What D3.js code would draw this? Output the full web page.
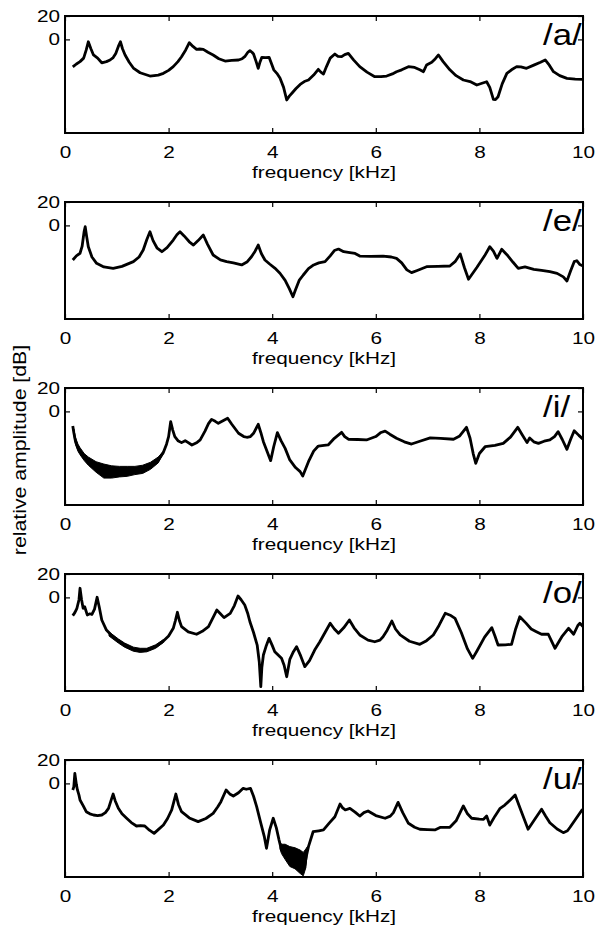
<!DOCTYPE html>
<html>
<head>
<meta charset="utf-8">
<script src="https://cdn.jsdelivr.net/npm/d3@7"></script>
<style>
  body { margin: 0; background: #fff; }
  text { font-family: "Liberation Sans", Arial, sans-serif; fill: #000; }
</style>
</head>
<body>
<div id="spectra"></div>
<script>
let spMargin = {top: 16, left: 65},
    spWidth = 518,
    spHeight = 117,
    spStep = 186

// vowel labels and spectra: [frequency kHz, level dB]
const vowelLabels = ["/a/", "/e/", "/i/", "/o/", "/u/"]
const xTicks = [0, 2, 4, 6, 8, 10]
const yTicks = [20, 0]

const specA = [
  [0.15,-23.5],[0.22,-21],[0.29,-19],[0.36,-16],[0.41,-9],[0.45,-2],[0.50,-8],[0.55,-13.3],[0.63,-16],[0.71,-20],
  [0.80,-19],[0.87,-17.6],[0.93,-15.5],[0.98,-12],[1.03,-6],[1.07,-2],[1.11,-8],[1.16,-13.3],[1.24,-19.5],[1.32,-24.5],
  [1.45,-28.5],[1.64,-31.3],[1.80,-30.5],[1.90,-29],[2.00,-26.5],[2.09,-23.3],[2.18,-19],[2.25,-14.8],[2.33,-9],[2.40,-2.8],
  [2.47,-6],[2.54,-8.5],[2.60,-8.2],[2.67,-8.5],[2.76,-11],[2.86,-13.3],[2.97,-16.5],[3.09,-18.5],[3.22,-18],[3.35,-17.6],
  [3.42,-16.5],[3.47,-14.8],[3.53,-11],[3.57,-9.6],[3.61,-11],[3.64,-12.5],[3.69,-19],[3.73,-24.7],[3.76,-20],[3.80,-15.3],
  [3.87,-15.5],[3.94,-15.3],[3.98,-20],[4.03,-26],[4.09,-29],[4.15,-33],[4.22,-41],[4.28,-51.8],[4.33,-48.5],[4.38,-46],
  [4.46,-42],[4.54,-38.5],[4.62,-36],[4.70,-34.7],[4.80,-30.5],[4.89,-25.6],[4.94,-28],[4.99,-29.6],[5.05,-23],[5.12,-16],
  [5.21,-12.5],[5.27,-14.5],[5.34,-14.8],[5.40,-13],[5.47,-11.9],[5.57,-17.5],[5.69,-23.3],[5.83,-28],[5.98,-31.9],[6.10,-31.8],
  [6.21,-31.3],[6.32,-29.5],[6.40,-27.6],[6.50,-26],[6.63,-23.3],[6.75,-24],[6.85,-26],[6.92,-27.6],[6.98,-21.9],[7.08,-19.5],
  [7.15,-16.5],[7.21,-13.3],[7.30,-19],[7.43,-26],[7.55,-31],[7.69,-34.7],[7.82,-36],[7.95,-39],[8.05,-37.5],[8.14,-36.2],
  [8.20,-41],[8.27,-51.2],[8.31,-51.5],[8.36,-49],[8.44,-38],[8.53,-29],[8.62,-26],[8.72,-23.3],[8.80,-23.5],[8.91,-24.7],
  [9.05,-22],[9.18,-19.5],[9.27,-17.6],[9.35,-22],[9.43,-27.6],[9.55,-31],[9.69,-33.3],[9.85,-34],[10.0,-34.1]
]

const specE = [
  [0.15,-29.6],[0.22,-26],[0.29,-23.8],[0.33,-18],[0.37,-5],[0.39,-1.1],[0.42,-10],[0.45,-18.2],[0.52,-27],[0.61,-32.4],
  [0.75,-35.5],[0.93,-36.7],[1.10,-35],[1.32,-31],[1.43,-27],[1.51,-21],[1.58,-12],[1.64,-5.4],[1.70,-13],[1.78,-19.5],
  [1.87,-22.5],[1.97,-19],[2.09,-12.5],[2.16,-8],[2.22,-5.4],[2.30,-9],[2.40,-14],[2.48,-16.8],[2.57,-13],[2.67,-8.2],
  [2.75,-16],[2.86,-25.3],[3.00,-29.5],[3.12,-31],[3.25,-32],[3.41,-33.8],[3.52,-31],[3.60,-26.8],[3.67,-22],[3.73,-16.8],
  [3.79,-24],[3.86,-29.6],[3.95,-33],[4.05,-36.5],[4.15,-40.9],[4.25,-47],[4.33,-54],[4.40,-61],[4.45,-55],[4.52,-47],
  [4.60,-42.4],[4.70,-37],[4.80,-33.8],[4.90,-32],[5.02,-31],[5.12,-26],[5.20,-21.5],[5.28,-20.2],[5.38,-22.5],[5.50,-23.3],
  [5.60,-24],[5.69,-26.2],[5.90,-26.5],[6.14,-26.2],[6.30,-27],[6.40,-28.2],[6.50,-32],[6.60,-38],[6.69,-40.4],[6.80,-38.5],
  [6.98,-35.3],[7.20,-35],[7.43,-34.7],[7.53,-31],[7.63,-24.4],[7.71,-36],[7.79,-46],[7.95,-36],[8.10,-26],[8.20,-18.2],
  [8.27,-22],[8.34,-28.2],[8.43,-20.4],[8.55,-26],[8.65,-31.5],[8.75,-36.7],[8.88,-35.5],[9.05,-37.5],[9.20,-38.5],[9.36,-39.6],
  [9.50,-41],[9.62,-44],[9.69,-47.5],[9.76,-39],[9.83,-31],[9.88,-30.2],[9.94,-33.5],[10.0,-34.7]
]

const specI = [
  [0.15,-12.5],[0.17,-18],[0.20,-25],[0.25,-31],[0.29,-34.4],[0.37,-39],[0.45,-42.5],[0.60,-47.5],[0.75,-51],[0.90,-52],
  [1.05,-51.5],[1.20,-51],[1.35,-50.5],[1.50,-49.5],[1.65,-46.5],[1.80,-41.5],[1.90,-35],[1.96,-28],[2.00,-21.6],[2.04,-8.8],
  [2.08,-16],[2.12,-21.6],[2.18,-25],[2.25,-26.7],[2.32,-25],[2.45,-28.7],[2.55,-26.5],[2.61,-24.4],[2.70,-17],[2.77,-10.5],
  [2.83,-6.8],[2.90,-8.5],[2.96,-10.2],[3.05,-8],[3.14,-5.9],[3.22,-11],[3.35,-18.7],[3.45,-21.5],[3.51,-22.1],[3.58,-21.5],
  [3.64,-18.7],[3.73,-11],[3.78,-18],[3.83,-25.9],[3.90,-34],[3.97,-42.1],[4.03,-30],[4.10,-18.2],[4.17,-25],[4.25,-31.6],
  [4.34,-41.5],[4.45,-48],[4.54,-51.5],[4.59,-55.2],[4.70,-43],[4.80,-34],[4.89,-29.6],[5.00,-29],[5.08,-28.7],[5.20,-23],
  [5.34,-17.9],[5.40,-21.5],[5.47,-23.8],[5.65,-24],[5.82,-24.4],[6.00,-21.5],[6.10,-18],[6.18,-16.8],[6.27,-19.5],[6.40,-23],
  [6.55,-26],[6.69,-27.9],[6.85,-25.5],[7.05,-22.7],[7.25,-23],[7.50,-23.8],[7.62,-21],[7.75,-13.6],[7.82,-23],[7.88,-36],
  [7.93,-44.4],[8.00,-36],[8.11,-30.2],[8.30,-29],[8.46,-27.3],[8.60,-22],[8.74,-13.6],[8.82,-19.5],[8.92,-26.7],[8.97,-22.7],
  [9.05,-26],[9.14,-27.3],[9.25,-25.5],[9.36,-24.4],[9.45,-21.5],[9.52,-17.3],[9.60,-24],[9.69,-32.4],[9.76,-24],[9.83,-16.5],
  [9.92,-20.5],[10.0,-23.8]
]

const specO = [
  [0.15,-15.6],[0.19,-13],[0.23,-9.3],[0.27,-2],[0.29,7.8],[0.32,-2],[0.35,-9.3],[0.38,-8],[0.43,-15],[0.48,-14],
  [0.52,-14.6],[0.57,-10],[0.62,0.1],[0.66,-8],[0.71,-19.3],[0.80,-27.9],[0.90,-32.5],[1.03,-37.3],[1.15,-40.5],[1.32,-44.2],
  [1.45,-45.2],[1.58,-45],[1.75,-42],[1.90,-37.3],[2.00,-33],[2.09,-26.4],[2.13,-20],[2.17,-12.7],[2.21,-20],[2.25,-25],
  [2.38,-29.5],[2.54,-31.5],[2.65,-29],[2.77,-25],[2.86,-17],[2.93,-10.8],[3.00,-14],[3.07,-17.3],[3.19,-13.6],[3.27,-7],
  [3.34,1.2],[3.40,-2],[3.47,-6.5],[3.53,-14],[3.57,-20.8],[3.64,-30],[3.71,-40.7],[3.75,-55],[3.78,-76.3],[3.80,-60],
  [3.83,-49.2],[3.88,-42],[3.94,-35],[4.00,-41],[4.05,-46.4],[4.12,-49.5],[4.18,-52.1],[4.23,-58],[4.28,-67.8],[4.34,-53],
  [4.41,-46.4],[4.47,-42.1],[4.55,-50],[4.63,-59.2],[4.72,-54],[4.82,-45],[4.92,-37.9],[5.02,-30],[5.12,-22.1],[5.20,-27],
  [5.28,-30.7],[5.38,-26],[5.49,-19.3],[5.58,-26],[5.69,-32.1],[5.85,-36.5],[5.98,-37.9],[6.08,-36.5],[6.14,-33.6],[6.22,-28],
  [6.31,-20.2],[6.38,-27],[6.47,-32.1],[6.65,-37.5],[6.85,-40.1],[6.98,-37],[7.11,-32.1],[7.22,-24],[7.34,-13.6],[7.45,-15.5],
  [7.53,-17.9],[7.65,-30],[7.77,-44],[7.87,-52.1],[7.95,-46],[8.10,-34],[8.24,-25.9],[8.30,-33],[8.36,-40.7],[8.50,-40.5],
  [8.62,-40.1],[8.70,-27],[8.78,-16.5],[8.90,-22],[9.00,-27],[9.10,-29.3],[9.20,-31.5],[9.33,-31.5],[9.40,-38],[9.46,-43.5],
  [9.60,-33],[9.72,-26.4],[9.82,-31.5],[9.90,-24],[9.94,-22.1],[10.0,-25]
]

const specU = [
  [0.15,-5.6],[0.17,-3],[0.19,8.6],[0.22,-1],[0.24,-5.6],[0.27,-10],[0.29,-14.2],[0.35,-19],[0.41,-24.2],[0.48,-26],
  [0.55,-27],[0.63,-27.5],[0.71,-27],[0.78,-25],[0.84,-21.3],[0.90,-13],[0.93,-9.1],[0.97,-15],[1.03,-21.3],[1.10,-26],
  [1.19,-29.8],[1.28,-33.5],[1.38,-36.4],[1.46,-36],[1.54,-36.4],[1.63,-40],[1.72,-42.7],[1.80,-39.5],[1.90,-35.6],[1.98,-30],
  [2.06,-22.7],[2.14,-9.1],[2.19,-18],[2.25,-24.2],[2.40,-29.5],[2.57,-32.7],[2.72,-30],[2.86,-25.6],[2.95,-20],[3.01,-15.6],
  [3.11,-5.6],[3.18,-9],[3.25,-10.8],[3.35,-8],[3.44,-4.2],[3.50,-5],[3.58,-4.2],[3.64,-11],[3.70,-19.9],[3.78,-34],
  [3.85,-46],[3.89,-55.5],[3.95,-40],[4.02,-29.8],[4.08,-38],[4.13,-48],[4.18,-56.9],[4.25,-58],[4.34,-62],[4.44,-64],
  [4.54,-67],[4.62,-72],[4.66,-62],[4.70,-54.1],[4.79,-41.3],[4.90,-40.5],[4.99,-39.8],[5.10,-34],[5.21,-28.5],[5.31,-17.6],
  [5.36,-21],[5.41,-22.7],[5.50,-21.3],[5.60,-24.5],[5.69,-27.9],[5.77,-25],[5.85,-23.6],[6.00,-27.5],[6.18,-29.8],[6.28,-28],
  [6.34,-25],[6.43,-16.2],[6.52,-25],[6.63,-34.1],[6.75,-37.5],[6.85,-39.2],[7.00,-39.5],[7.14,-39.8],[7.25,-37.5],[7.43,-37.5],
  [7.55,-32],[7.69,-19.3],[7.77,-26],[7.85,-29.8],[8.00,-30.5],[8.08,-30.7],[8.14,-27.9],[8.20,-35.6],[8.30,-28],[8.40,-21.3],
  [8.49,-18.5],[8.60,-14],[8.69,-9.9],[8.80,-23],[8.94,-39.2],[9.05,-32],[9.20,-22.1],[9.28,-28],[9.36,-33.6],[9.50,-39],
  [9.62,-42.1],[9.70,-40.5],[9.75,-37.5],[9.85,-31],[9.99,-22.1]
]

// noisy stretches drawn as a filled envelope: [frequency, upper dB, lower dB]
const bandI = [
  [0.17,-15,-20],[0.20,-22,-28],[0.25,-28,-34],[0.29,-31,-37],[0.37,-36,-42],[0.45,-39,-46],[0.60,-43,-52],[0.75,-45,-57],
  [0.90,-46.5,-57],[1.05,-47,-56],[1.20,-47,-55.5],[1.35,-47,-54],[1.50,-46,-53],[1.65,-43.5,-49.5],[1.80,-39,-44],[1.90,-34,-36]
]
const bandO = [
  [0.85,-29.5,-33],[1.03,-35.5,-39],[1.15,-39,-42.5],[1.32,-42.5,-46],[1.45,-43.5,-47],[1.58,-43.5,-46.5],[1.75,-40.5,-43.5],[1.90,-36,-38.5]
]
const bandU = [
  [4.15,-50,-56],[4.18,-52,-60],[4.25,-52,-65],[4.34,-54,-71],[4.44,-55,-73],[4.54,-57,-77],[4.60,-59,-79],[4.65,-56,-72],[4.68,-54,-58]
]

const spectra = [specA, specE, specI, specO, specU]
const bands = [null, null, bandI, bandO, bandU]

let spSvg = d3.select("#spectra")
              .append('svg')
              .attr('width', 597)
              .attr('height', 928)

let spX = d3.scaleLinear()
            .domain([0, 10])
            .range([0, spWidth])
let spY = d3.scaleLinear()
            .domain([-80, 20])
            .range([spHeight, 0])

let specLine = d3.line()
                 .x(function(d) { return spX(d[0]) })
                 .y(function(d) { return spY(d[1]) })
let specBand = d3.area()
                 .x(function(d) { return spX(d[0]) })
                 .y0(function(d) { return spY(d[2]) })
                 .y1(function(d) { return spY(d[1]) })

spectra.forEach(function(data, i) {
    let g = spSvg.append('g')
                 .attr('transform', "translate(" + spMargin.left + "," + (spMargin.top + i * spStep) + ")")

    g.append('clipPath')
     .attr('id', "clip" + i)
     .append('rect')
     .attr('width', spWidth)
     .attr('height', spHeight)

    let plot = g.append('g').attr('clip-path', "url(#clip" + i + ")")

    if (bands[i]) {
        plot.append('path')
            .datum(bands[i])
            .attr('d', specBand)
            .attr('fill', 'black')
            .attr('stroke', 'black')
            .attr('stroke-width', 1)
    }

    plot.append('path')
        .datum(data)
        .attr('d', specLine)
        .attr('fill', 'none')
        .attr('stroke', 'black')
        .attr('stroke-width', 2.8)
        .attr('stroke-linejoin', 'round')

    plot.append('text')
        .attr('transform', "translate(478,29) scale(1.2,1)")
        .style('font-size', '29px')
        .text(vowelLabels[i])

    // bottom axis with labels, ticks pointing in
    let xb = g.append('g')
              .attr('transform', "translate(0," + spHeight + ")")
              .call(d3.axisBottom(spX).tickValues(xTicks).tickSize(-5).tickPadding(13))
    xb.selectAll('text')
      .attr('transform', "scale(1.22,1)")
      .style('font-size', '17px')
      .style('font-family', '"Liberation Sans", Arial, sans-serif')

    g.append('g')
     .call(d3.axisTop(spX).tickValues(xTicks).tickSize(-5).tickFormat(""))

    let yl = g.append('g')
              .call(d3.axisLeft(spY).tickValues(yTicks).tickSize(-5).tickPadding(4))
    yl.selectAll('text')
      .attr('transform', "scale(1.22,1)")
      .style('font-size', '17px')
      .style('font-family', '"Liberation Sans", Arial, sans-serif')

    g.append('g')
     .attr('transform', "translate(" + spWidth + ",0)")
     .call(d3.axisRight(spY).tickValues(yTicks).tickSize(-5).tickFormat(""))

    g.selectAll('.domain').remove()
    g.selectAll('.tick line').attr('stroke', 'black').attr('stroke-width', 1.2)

    g.append('rect')
     .attr('width', spWidth)
     .attr('height', spHeight)
     .attr('fill', 'none')
     .attr('stroke', 'black')
     .attr('stroke-width', 2)

    g.append('text')
     .attr('transform', "translate(" + (spWidth / 2) + "," + (spHeight + 45) + ") scale(1.22,1)")
     .attr('text-anchor', 'middle')
     .style('font-size', '17px')
     .text("frequency [kHz]")
})

spSvg.append('text')
     .attr('transform', "translate(26,450) rotate(-90) scale(1.12,1)")
     .attr('text-anchor', 'middle')
     .style('font-size', '19px')
     .text("relative amplitude [dB]")
</script>
</body>
</html>
